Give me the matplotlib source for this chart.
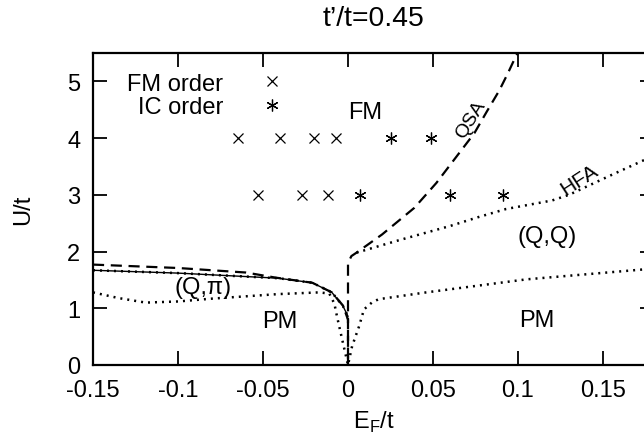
import numpy as np
import matplotlib
matplotlib.use('Agg')
import matplotlib.pyplot as plt
from matplotlib.lines import Line2D

plt.rcParams['font.family'] = ['Liberation Sans', 'DejaVu Sans']
plt.rcParams['font.size'] = 17

# ordered points from the calculation
fm_E = [-0.065, -0.04, -0.02, -0.007, -0.053, -0.027, -0.012]
fm_U = [4, 4, 4, 4, 3, 3, 3]
ic_E = [0.025, 0.049, 0.007, 0.060, 0.091]
ic_U = [4, 4, 3, 3, 3]

# QSA boundary (dashed)
qsa_E = [-0.15, -0.1, -0.06, -0.0425, -0.021, -0.0095, -0.003, 0.0, 0.0,
         0.0, 0.002, 0.005, 0.02, 0.039, 0.052, 0.0655, 0.0744, 0.0815,
         0.089, 0.094, 0.099, 0.101]
qsa_U = [1.77, 1.71, 1.63, 1.54, 1.45, 1.28, 1.05, 0.8, 0.0,
         1.8, 1.92, 1.98, 2.3, 2.77, 3.21, 3.74, 4.09, 4.46,
         4.84, 5.14, 5.46, 5.55]

# (Q,pi) upper boundary
qpi_E = [-0.15, -0.1, -0.041, -0.021, -0.0095, -0.003, 0.0]
qpi_U = [1.67, 1.62, 1.53, 1.45, 1.28, 1.04, 0.86]

# HFA boundary FM / (Q,Q)
hfa_E = [0.005, 0.03, 0.06, 0.077, 0.093, 0.12, 0.13, 0.14, 0.155, 0.174, 0.18]
hfa_U = [1.98, 2.2, 2.45, 2.61, 2.75, 2.9, 3.0, 3.14, 3.35, 3.61, 3.68]

# HFA boundary to PM
pm_E = [-0.15, -0.135, -0.119, -0.1, -0.08, -0.041, -0.017, -0.011, -0.008,
        -0.0065, -0.0035, 0.0, 0.0024, 0.0065, 0.0094, 0.014, 0.018, 0.046,
        0.105, 0.172, 0.18]
pm_U = [1.28, 1.18, 1.1, 1.12, 1.17, 1.25, 1.28, 1.26, 1.08,
        0.86, 0.46, 0.0, 0.33, 0.68, 0.98, 1.1, 1.16, 1.28,
        1.51, 1.68, 1.7]

fig = plt.figure(figsize=(6.44, 4.39), dpi=100)
ax = fig.add_axes([93/644, 73/439, 561/644, 312/439])

dot = (0, (0.8, 2.0))
ax.plot(qsa_E, qsa_U, color='black', lw=1.6, dashes=(5, 3))
ax.plot(qpi_E, qpi_U, color='black', lw=1.0)
ax.plot(qpi_E, qpi_U, color='black', lw=1.8, linestyle=dot)
ax.plot(hfa_E, hfa_U, color='black', lw=1.8, linestyle=dot)
ax.plot(pm_E, pm_U, color='black', lw=1.8, linestyle=dot)

ax.plot(fm_E, fm_U, linestyle='none', marker='x', ms=6.5, mew=0.9, color='black')
ax.plot(ic_E, ic_U, linestyle='none', marker=(6, 2, 0), ms=8.5, mew=0.9, color='black')

handles = [Line2D([], [], linestyle='none', marker='x', ms=6.5, mew=0.9, color='black'),
           Line2D([], [], linestyle='none', marker=(6, 2, 0), ms=8.5, mew=0.9, color='black')]
ax.legend(handles, ['FM order', 'IC order'], loc='upper left', markerfirst=False,
          frameon=False, bbox_to_anchor=(0.061, 0.937), borderpad=0, borderaxespad=0,
          handlelength=1.5, handletextpad=1.3, labelspacing=0.05)

ax.text(0.010, 4.46, 'FM', ha='center', va='center')
ax.text(0.117, 2.27, '(Q,Q)', ha='center', va='center')
ax.text(-0.085, 1.37, '(Q,π)', ha='center', va='center')
ax.text(-0.040, 0.77, 'PM', ha='center', va='center')
ax.text(0.111, 0.79, 'PM', ha='center', va='center')
ax.text(0.072, 4.34, 'QSA', ha='center', va='center', rotation=58, fontsize=14)
ax.text(0.136, 3.28, 'HFA', ha='center', va='center', rotation=33, fontsize=15)

ax.set_xlim(-0.15, 0.18)
ax.set_ylim(0, 5.5)
ax.set_xticks([-0.15, -0.1, -0.05, 0, 0.05, 0.1, 0.15])
ax.set_xticklabels(['-0.15', '-0.1', '-0.05', '0', '0.05', '0.1', '0.15'])
ax.set_yticks([0, 1, 2, 3, 4, 5])
ax.tick_params(direction='in', length=10, width=1.3, top=True, right=True)
ax.tick_params(axis='x', pad=10)
ax.tick_params(axis='y', pad=9)
for s in ax.spines.values():
    s.set_linewidth(1.6)

ax.set_xlabel('E$_\\mathregular{F}$/t', labelpad=6)
ax.set_ylabel('U/t', labelpad=24)
ax.set_title('t’/t=0.45', pad=20)

fig.savefig('out.png', dpi=100)
